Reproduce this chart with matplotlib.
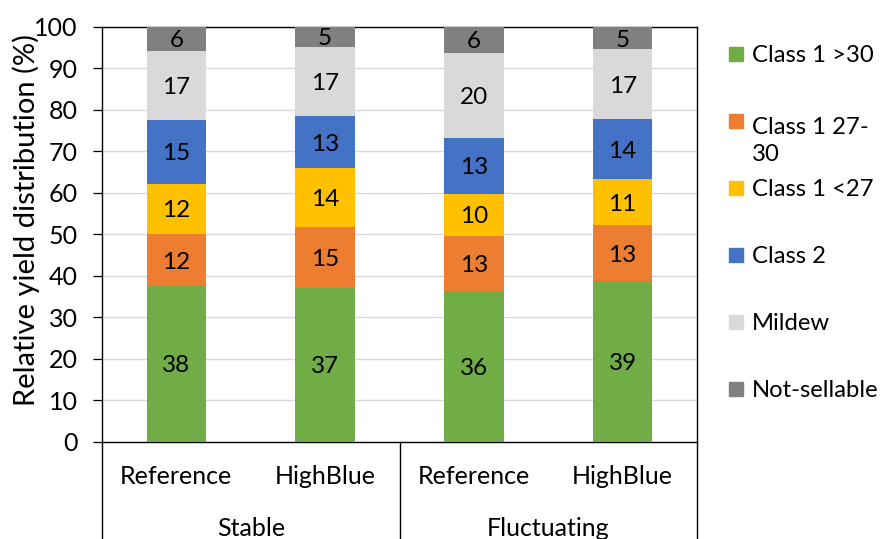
import matplotlib
matplotlib.use("Agg")
import matplotlib.pyplot as plt
from matplotlib.patches import Rectangle
from matplotlib.transforms import blended_transform_factory
import numpy as np

plt.rcParams['font.family'] = ['Lato', 'DejaVu Sans']

# Treatments (lower row) and light regimes (upper row) on the x axis
treatments = ["Reference", "HighBlue", "Reference", "HighBlue"]
regimes = ["Stable", "Fluctuating"]

# Yield classes, bottom to top of each stack
classes = ["Class 1 >30", "Class 1 27-\n30", "Class 1 <27", "Class 2", "Mildew", "Not-sellable"]
colors = ["#70AD47", "#ED7D31", "#FFC000", "#4472C4", "#D9D9D9", "#808080"]

# Relative yield share (%) per class, one value per bar
class1_gt30 = [37.6, 37.1, 36.4, 38.7]
class1_27_30 = [12.4, 14.6, 13.2, 13.4]
class1_lt27 = [12.2, 14.2, 10.2, 11.3]
class2 = [15.4, 12.6, 13.4, 14.3]
mildew = [16.6, 16.6, 20.5, 16.9]
not_sellable = [5.8, 4.9, 6.3, 5.4]

series = [class1_gt30, class1_27_30, class1_lt27, class2, mildew, not_sellable]

W, H = 882, 539
fig = plt.figure(figsize=(W / 100, H / 100), dpi=100)
ax = fig.add_axes([102 / W, 1 - 441.7 / H, (697 - 102) / W, (441.7 - 26.7) / H])

FS = 18
x = np.arange(len(treatments))
bottom = np.zeros(len(treatments))
for vals, col in zip(series, colors):
    vals = np.asarray(vals, dtype=float)
    ax.bar(x, vals, width=0.4, bottom=bottom, color=col, zorder=3)
    for xi, b, v in zip(x, bottom, vals):
        ax.annotate(f"{v:.0f}", (xi, b + v / 2), xytext=(0, -6.2),
                    textcoords="offset points", ha="center", va="baseline",
                    fontsize=FS - 0.5, color="black", zorder=4)
    bottom += vals

ax.set_xlim(-0.5, len(treatments) - 0.5)
ax.set_ylim(0, 100)
ax.set_yticks(range(0, 101, 10))
ax.tick_params(axis="y", direction="out", length=6.5, width=0.9,
               pad=11, labelsize=FS, color="black")
ax.set_xticks([])
ax.yaxis.grid(True, color="#D9D9D9", lw=1.0, zorder=0)
for s in ax.spines.values():
    s.set_color("black")
    s.set_linewidth(1.0)

# Two-level category axis
tr = blended_transform_factory(ax.transData, ax.transAxes)
for xi, lab in zip(x, treatments):
    ax.text(xi, -0.102, lab, transform=tr, ha="center", va="baseline",
            fontsize=FS)
for gi, lab in enumerate(regimes):
    ax.text(2 * gi + 0.5, -0.227, lab, transform=tr, ha="center",
            va="baseline", fontsize=FS)
for xv in [-0.5, 1.5, 3.5]:
    ax.plot([xv, xv], [0, -0.35], transform=tr, color="black", lw=1.0,
            clip_on=False)

fig.text(26 / W, 1 - 220 / H, "Relative yield distribution (%)", rotation=90,
         ha="center", va="center", fontsize=21)

# Legend, top to bottom
centers = [53.7, 121, 187.5, 255.3, 322, 389]
line_gap = 32
for lab, col, cy in zip(classes, colors, centers):
    fig.patches.append(Rectangle((729 / W, 1 - (cy + 7) / H), 14 / W, 14 / H,
                                 transform=fig.transFigure, color=col))
    n_extra = lab.count("\n")
    fig.text(752 / W, 1 - (cy + 8 + line_gap * n_extra) / H, lab,
             ha="left", va="baseline", fontsize=17.2, linespacing=1.38)

fig.savefig("out.png", dpi=100)
